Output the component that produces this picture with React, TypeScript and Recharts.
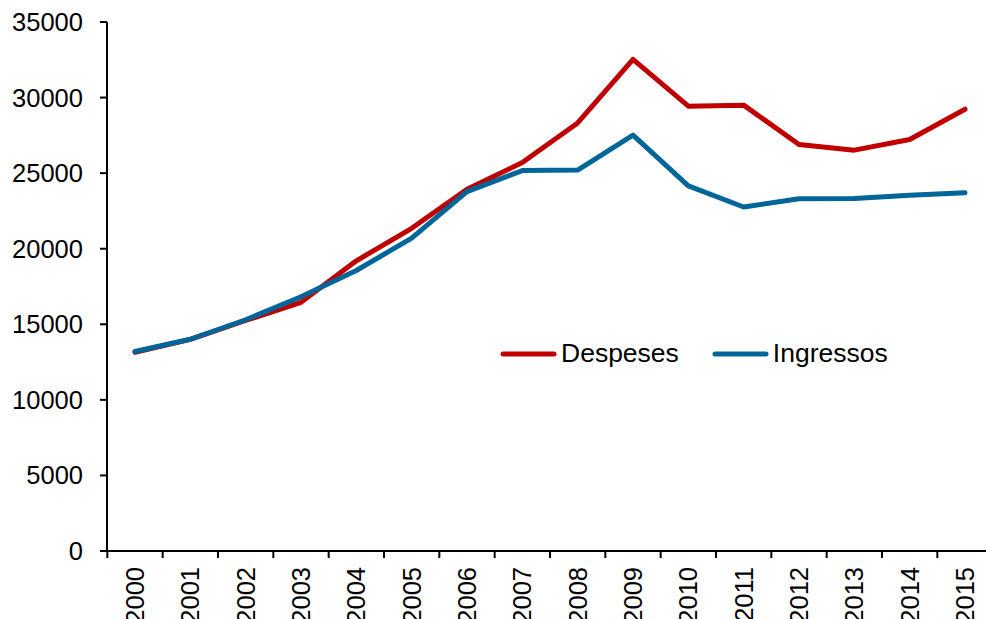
import React from "react";
import { LineChart, Line, XAxis, YAxis, Legend } from "recharts";

const years = [
  "2000", "2001", "2002", "2003", "2004", "2005", "2006", "2007",
  "2008", "2009", "2010", "2011", "2012", "2013", "2014", "2015",
];
const despeses = [13150, 14000, 15250, 16450, 19200, 21350, 23930, 25700, 28320, 32530, 29430, 29500, 26900, 26520, 27230, 29230];
const ingressos = [13200, 14010, 15300, 16820, 18560, 20700, 23780, 25170, 25200, 27520, 24160, 22760, 23300, 23320, 23530, 23700];
const yTicks = [0, 5000, 10000, 15000, 20000, 25000, 30000, 35000];

const series = [
  { key: "Despeses", color: "#C00000" },
  { key: "Ingressos", color: "#00669A" },
];

const data = years.map((y, i) => ({ year: y, Despeses: despeses[i], Ingressos: ingressos[i] }));

const FONT = "'Liberation Sans', Arial, sans-serif";
const CHART_W = 1000;
const CHART_H = 619;
const Y_AXIS_W = 107;
const RIGHT = 7;
const PAD = 28;
const plotW = CHART_W - Y_AXIS_W - RIGHT;
const halfStep = (plotW - 2 * PAD) / (years.length - 1) / 2;

const YearTick = (props: any) => {
  const { x, y, payload, index } = props;
  return (
    <g>
      <line x1={x - halfStep} y1={y} x2={x - halfStep} y2={y + 7} stroke="#000" strokeWidth={2} />
      {index === years.length - 1 && (
        <line x1={x + halfStep} y1={y} x2={x + halfStep} y2={y + 7} stroke="#000" strokeWidth={2} />
      )}
      <text
        transform={`translate(${x + 9},${y + 16}) rotate(-90)`}
        textAnchor="end"
        fontSize={25.5}
        fontFamily={FONT}
        fill="#000"
      >
        {payload.value}
      </text>
    </g>
  );
};

const LegendContent = () => (
  <div style={{ display: "flex", alignItems: "center", fontFamily: FONT, fontSize: 26.5, color: "#000" }}>
    {series.map((s, i) => (
      <div key={s.key} style={{ display: "flex", alignItems: "center", marginRight: i === 0 ? 33 : 0 }}>
        <svg width={57} height={10} style={{ marginRight: 4 }}>
          <line x1={3} y1={5} x2={54} y2={5} stroke={s.color} strokeWidth={5} strokeLinecap="round" />
        </svg>
        <span>{s.key}</span>
      </div>
    ))}
  </div>
);

export default function App() {
  return (
    <div style={{ position: "absolute", left: 0, top: 0, width: 986, height: 619, overflow: "hidden", background: "#fff" }}>
      <LineChart
        width={CHART_W}
        height={CHART_H}
        data={data}
        margin={{ top: 22, right: RIGHT, bottom: 0, left: 0 }}
      >
        <XAxis
          dataKey="year"
          height={68}
          padding={{ left: PAD, right: PAD }}
          axisLine={{ stroke: "#000", strokeWidth: 2 }}
          tickLine={false}
          tickSize={0}
          tickMargin={0}
          interval={0}
          tick={<YearTick />}
        />
        <YAxis
          width={Y_AXIS_W}
          domain={[0, 35000]}
          ticks={yTicks}
          interval={0}
          axisLine={{ stroke: "#000", strokeWidth: 2 }}
          tickLine={{ stroke: "#000", strokeWidth: 2 }}
          tickSize={7}
          tickMargin={17}
          tick={{ fontSize: 25.5, fontFamily: FONT, fill: "#000" }}
        />
        <Legend
          layout="horizontal"
          verticalAlign="middle"
          align="center"
          content={<LegendContent />}
          wrapperStyle={{ position: "absolute", left: 500, top: 338, width: "auto" }}
        />
        {series.map((s) => (
          <Line
            key={s.key}
            type="linear"
            dataKey={s.key}
            stroke={s.color}
            strokeWidth={5}
            strokeLinecap="round"
            strokeLinejoin="round"
            dot={false}
            activeDot={false}
            isAnimationActive={false}
          />
        ))}
      </LineChart>
    </div>
  );
}
